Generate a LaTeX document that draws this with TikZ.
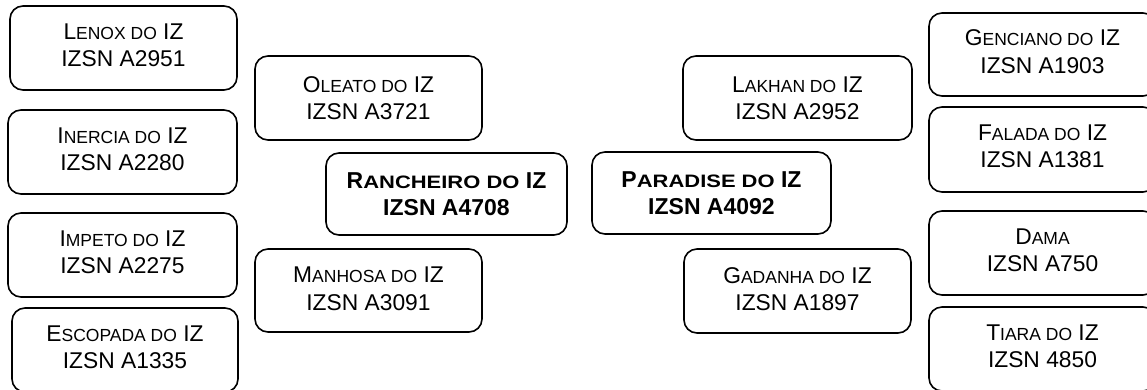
\documentclass[tikz,border=0pt]{standalone}
\usepackage{fontspec}
\setmainfont{Liberation Sans}
\newcommand\smc[1]{{\fontsize{17.5pt}{27.3pt}\selectfont #1}}
\newcommand\smcb[1]{{\fontsize{18pt}{27.3pt}\selectfont\addfontfeatures{FakeStretch=1.22}#1}}
\tikzset{
  box/.style={draw=black, line width=1.6pt, rounded corners=13pt, fill=white,
    minimum width=227pt, minimum height=84pt, inner sep=0pt, align=center,
    font=\fontsize{22.8pt}{27.3pt}\selectfont},
  outer/.style={box, text depth=6pt},
  bbox/.style={box, font=\fontsize{23pt}{27.3pt}\selectfont\bfseries}
}
\begin{document}
\begin{tikzpicture}[x=1pt,y=-1pt]
\useasboundingbox (0,0) rectangle (1147,389);
\node[outer] (lenox) at (123.5,48) {L\smc{ENOX DO} IZ\\IZSN A2951};
\node[outer, minimum width=229pt] (inercia) at (122.5,152) {I\smc{NERCIA DO} IZ\\IZSN A2280};
\node[outer, minimum width=229pt] (impeto) at (122.5,255) {I\smc{MPETO DO} IZ\\IZSN A2275};
\node[outer, minimum width=226pt] (escopada) at (125,350) {E\smc{SCOPADA DO} IZ\\IZSN A1335};
\node[box] (oleato) at (368.5,98) {O\smc{LEATO DO} IZ\\IZSN A3721};
\node[box, minimum height=83pt, text depth=4pt] (manhosa) at (368.5,290.5) {M\smc{ANHOSA DO} IZ\\IZSN A3091};
\node[bbox, minimum width=241pt, minimum height=82pt] (rancheiro) at (446.5,194) {R\smcb{ANCHEIRO DO} IZ\\IZSN A4708};
\node[bbox, minimum width=239pt, minimum height=82pt] (paradise) at (711.5,193) {P\smcb{ARADISE DO} IZ\\IZSN A4092};
\node[box, minimum width=229pt] (lakhan) at (797.5,98) {L\smc{AKHAN DO} IZ\\IZSN A2952};
\node[box, text depth=4pt] (gadanha) at (797.5,291) {G\smc{ADANHA DO} IZ\\IZSN A1897};
\node[outer, minimum height=83pt] (genciano) at (1042.5,54.5) {G\smc{ENCIANO DO} IZ\\IZSN A1903};
\node[outer, minimum height=85pt] (falada) at (1042.5,149.5) {F\smc{ALADA DO} IZ\\IZSN A1381};
\node[outer] (dama) at (1042.5,253) {D\smc{AMA}\\IZSN A750};
\node[outer] (tiara) at (1042.5,349) {T\smc{IARA DO} IZ\\IZSN 4850};
\end{tikzpicture}
\end{document}
